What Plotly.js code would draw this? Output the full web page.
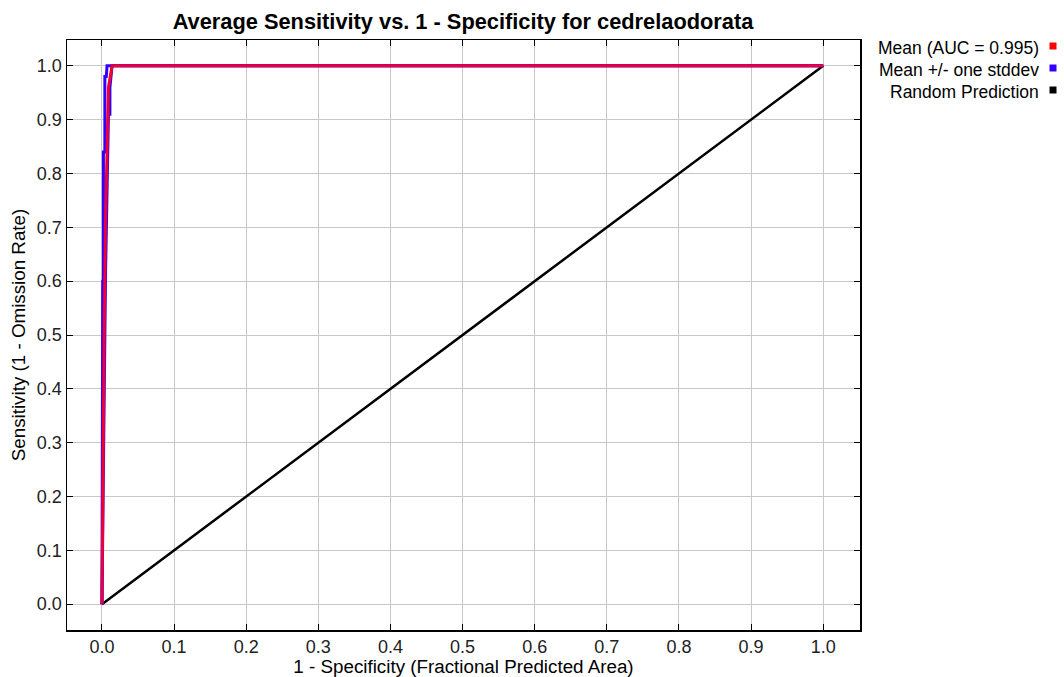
<!DOCTYPE html>
<html>
<head>
<meta charset="utf-8">
<script src="https://cdn.plot.ly/plotly-3.0.1.min.js"></script>
<style>html,body{margin:0;padding:0;background:#fff}#chart{width:1064px;height:677px}</style>
</head>
<body>
<div id="chart"></div>
<script>
// Mean ROC curve
const meanX = [0, 0.001, 0.002, 0.003, 0.005, 0.007, 0.008, 0.009, 0.014, 1.0];
const meanY = [0, 0.20, 0.35, 0.50, 0.72, 0.88, 0.93, 0.96, 1.0, 1.0];
// Mean + one stddev
const upperX = [0, 0, 0.001, 0.002, 0.002, 0.004, 0.004, 0.006, 0.007, 1.0];
const upperY = [0, 0.45, 0.60, 0.60, 0.84, 0.84, 0.98, 0.98, 1.0, 1.0];
// Mean - one stddev
const lowerX = [0, 0.001, 0.002, 0.003, 0.004, 0.005, 0.006, 0.009, 0.011, 0.011, 0.014, 1.0];
const lowerY = [0, 0.10, 0.21, 0.37, 0.50, 0.62, 0.69, 0.91, 0.91, 0.96, 1.0, 1.0];
// Random prediction
const randX = [0, 1];
const randY = [0, 1];

const legendLabels = ["Mean (AUC = 0.995)", "Mean +/- one stddev", "Random Prediction"];
const legendColors = ["#ff0000", "#3300ff", "#000000"];

const tickVals = [0, 0.1, 0.2, 0.3, 0.4, 0.5, 0.6, 0.7, 0.8, 0.9, 1.0];
const tickText = ["0.0", "0.1", "0.2", "0.3", "0.4", "0.5", "0.6", "0.7", "0.8", "0.9", "1.0"];

const traces = [
  {x: randX, y: randY, mode: "lines", line: {color: "#000000", width: 2.5}, showlegend: false},
  {x: upperX, y: upperY, mode: "lines", line: {color: "#3300ff", width: 3}, showlegend: false},
  {x: lowerX, y: lowerY, mode: "lines", line: {color: "#3300ff", width: 3}, showlegend: false},
  {x: meanX, y: meanY, mode: "lines", line: {color: "#ee0033", width: 3}, showlegend: false}
];

const font = "Liberation Sans, Arial, Helvetica, sans-serif";
const annotations = [];
const shapes = [];
const legY = [48, 70, 92];
legendLabels.forEach((t, i) => {
  annotations.push({xref: "paper", yref: "paper", x: (1041 - 67) / (860 - 67), y: 1 - (legY[i] - 40) / 590,
    xanchor: "right", yanchor: "middle", text: t, showarrow: false,
    font: {family: font, size: 17.5, color: "#000"}});
  const cx = (1053 - 67) / (860 - 67), cy = 1 - (legY[i] - 2 - 40) / 590;
  shapes.push({type: "rect", xref: "paper", yref: "paper",
    x0: cx - 3.5 / 793, x1: cx + 3.5 / 793, y0: cy - 3.5 / 590, y1: cy + 3.5 / 590,
    fillcolor: legendColors[i], line: {width: 0}});
});

const layout = {
  width: 1064, height: 677,
  margin: {l: 67, r: 204, t: 40, b: 47},
  paper_bgcolor: "#fff", plot_bgcolor: "#fff",
  showlegend: false,
  title: {text: "<b>Average Sensitivity vs. 1 - Specificity for cedrelaodorata</b>",
    x: 463 / 1064, xanchor: "center", y: 1 - 21 / 677, yanchor: "middle",
    font: {family: font, size: 21.8, color: "#000"}},
  xaxis: {range: [-0.0485, 1.051], tickvals: tickVals, ticktext: tickText,
    ticks: "inside", ticklen: 6, tickcolor: "#000", mirror: "allticks",
    showline: true, linecolor: "#000", linewidth: 1.5,
    showgrid: true, gridcolor: "#c8c8c8", gridwidth: 1, zeroline: false,
    tickfont: {family: font, size: 18, color: "#222"},
    title: {text: "1 - Specificity (Fractional Predicted Area)", standoff: 0,
      font: {family: font, size: 18.8, color: "#000"}}},
  yaxis: {range: [-0.048, 1.048], tickvals: tickVals, ticktext: tickText,
    ticks: "inside", ticklen: 6, tickcolor: "#000", mirror: "allticks",
    showline: true, linecolor: "#000", linewidth: 1.5,
    showgrid: true, gridcolor: "#c8c8c8", gridwidth: 1, zeroline: false,
    tickfont: {family: font, size: 18, color: "#222"},
    title: {text: "Sensitivity (1 - Omission Rate)", standoff: 6,
      font: {family: font, size: 18.8, color: "#000"}}},
  annotations: annotations,
  shapes: shapes
};

Plotly.newPlot("chart", traces, layout, {displayModeBar: false, staticPlot: true});
</script>
</body>
</html>
